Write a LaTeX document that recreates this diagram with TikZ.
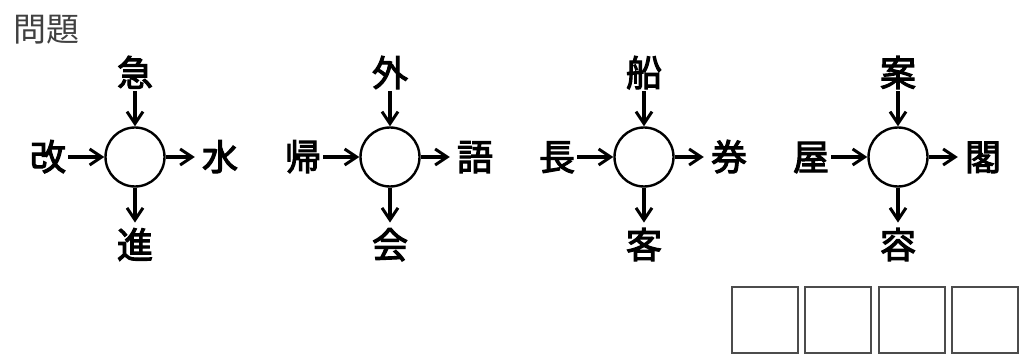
\documentclass[tikz,border=0pt]{standalone}
\usepackage{fontspec}
\setmainfont{Noto Sans CJK JP}
\newfontfamily\kanjifont{Noto Sans CJK JP}[FakeBold=3]
\usepackage{tikz}
\usetikzlibrary{arrows.meta}
\tikzset{>={Straight Barb[length=12pt,width=16pt,line width=3pt]}}
\tikzset{
  kanji/.style={inner sep=2pt,font=\fontsize{36}{36}\kanjifont,text height=29.5pt,text depth=3pt},
  hole/.style={circle,draw,line width=2.4pt,minimum size=59pt,inner sep=0pt},
  answer/.style={draw=black!70,line width=2pt,minimum size=66pt,inner sep=0pt},
  link/.style={->,line width=3.2pt}
}

\begin{document}
\begin{tikzpicture}[x=1pt,y=-1pt]
    \useasboundingbox (0,0) rectangle (1022,355);
    \node[text=black!75,font=\fontsize{33}{33}\selectfont,inner sep=0pt] (title) at (46,30) {問題};
    % four puzzles: top, left, right, bottom
    \foreach \x/\t/\l/\r/\b [count=\i] in {135/急/改/水/進, 390/外/帰/語/会, 644/船/長/券/客, 898/案/屋/閣/容} {
        \node[hole] (c\i) at (\x,157) {};
        \node[kanji] (t\i) at (\x,73) {\t};
        \node[kanji] (l\i) at (\x-87,157) {\l};
        \node[kanji] (r\i) at (\x+85,157) {\r};
        \node[kanji] (b\i) at (\x,245) {\b};
        \draw[link] (t\i) -- (c\i);
        \draw[link] (l\i) -- (c\i);
        \draw[link,shorten >=5pt] (c\i) -- (r\i);
        \draw[link,shorten >=4pt] (c\i) -- (b\i);
    }
    % answer boxes
    \foreach \x [count=\i] in {764.5,837.5,911.5,985} {
        \node[answer] (a\i) at (\x,320) {};
    }
\end{tikzpicture}
\end{document}
